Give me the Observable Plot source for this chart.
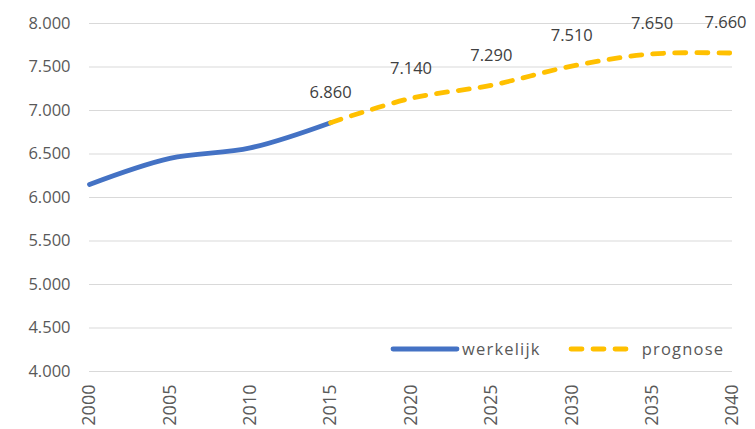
<!DOCTYPE html>
<html>
<head>
<meta charset="utf-8">
<script src="https://cdn.jsdelivr.net/npm/d3@7"></script>
<script src="https://cdn.jsdelivr.net/npm/@observablehq/plot@0.6"></script>
<style>
  html, body { margin: 0; padding: 0; background: #fff; }
  #wrap { position: relative; width: 755px; height: 429px; overflow: hidden; font-family: "Open Sans", sans-serif; }
  #legend { position: absolute; left: 390px; top: 337px; display: flex; align-items: center; font-size: 16.5px; letter-spacing: 1.2px; color: #595959; }
  #legend .item { display: flex; align-items: center; }
  #legend svg { display: block; }
</style>
</head>
<body>
<div id="wrap"></div>
<script>
// Population: actual figures and forecast (5-year steps)
const actualYears = [2000, 2005, 2010, 2015];
const actualValues = [6150, 6450, 6570, 6860];
const forecastYears = [2015, 2020, 2025, 2030, 2035, 2040];
const forecastValues = [6860, 7140, 7290, 7510, 7650, 7660];
const yTicks = [4000, 4500, 5000, 5500, 6000, 6500, 7000, 7500, 8000];
const xTicks = [2000, 2005, 2010, 2015, 2020, 2025, 2030, 2035, 2040];
const seriesNames = ["werkelijk", "prognose"];

const blue = "#4472C4";
const gold = "#FFC000";

const nl = d3.formatLocale({decimal: ",", thousands: ".", grouping: [3], currency: ["€", ""]});
const fmt = nl.format(",.0f");

const actual = actualYears.map((year, i) => ({year, value: actualValues[i]}));
const forecast = forecastYears.map((year, i) => ({year, value: forecastValues[i]}));
const lastIndex = forecast.length - 1;

const chart = Plot.plot({
  width: 755,
  height: 429,
  marginLeft: 89,
  marginRight: 23,
  marginTop: 23,
  marginBottom: 58,
  style: {fontFamily: "Open Sans, sans-serif", background: "#fff"},
  x: {domain: [2000, 2040], ticks: xTicks},
  y: {domain: [4000, 8000], ticks: yTicks},
  marks: [
    Plot.gridY(yTicks, {stroke: "#d9d9d9", strokeOpacity: 1, strokeWidth: 1}),
    Plot.axisY(yTicks, {
      tickSize: 0, tickPadding: 19, tickFormat: fmt, label: null,
      fontSize: 16.5, fill: "#595959", style: "letter-spacing:2px"
    }),
    Plot.axisX(xTicks, {
      tickSize: 0, tickPadding: 13, tickFormat: d => String(d), tickRotate: -90, label: null,
      fontSize: 18, fill: "#595959", style: "letter-spacing:1.5px"
    }),
    Plot.line(actual, {
      x: "year", y: "value", stroke: blue, strokeWidth: 4.8,
      curve: "catmull-rom", strokeLinecap: "round"
    }),
    Plot.line(forecast, {
      x: "year", y: "value", stroke: gold, strokeWidth: 4.8,
      curve: "catmull-rom", strokeDasharray: "11,11", strokeLinecap: "round"
    }),
    Plot.text(forecast.filter((d, i) => i < lastIndex), {
      x: "year", y: "value", text: d => fmt(d.value), dy: -30,
      fontSize: 16.5, fill: "#404040", style: "letter-spacing:2px"
    }),
    Plot.text(forecast.filter((d, i) => i === lastIndex), {
      x: "year", y: "value", text: d => fmt(d.value), dy: -30, dx: -7,
      fontSize: 16.5, fill: "#404040", style: "letter-spacing:2px"
    })
  ]
});

const wrap = document.getElementById("wrap");
wrap.appendChild(chart);

// Legend inside the plot area, bottom right
const legend = document.createElement("div");
legend.id = "legend";
legend.innerHTML = `
  <div class="item">
    <svg width="70" height="12"><line x1="3" y1="6" x2="67" y2="6" stroke="${blue}" stroke-width="4.8" stroke-linecap="round"/></svg>
    <span style="margin-left:2px">${seriesNames[0]}</span>
  </div>
  <div class="item" style="margin-left:27px">
    <svg width="68" height="12"><line x1="3" y1="6" x2="65" y2="6" stroke="${gold}" stroke-width="4.8" stroke-dasharray="11,11" stroke-linecap="round"/></svg>
    <span style="margin-left:6px">${seriesNames[1]}</span>
  </div>`;
wrap.appendChild(legend);
</script>
</body>
</html>
